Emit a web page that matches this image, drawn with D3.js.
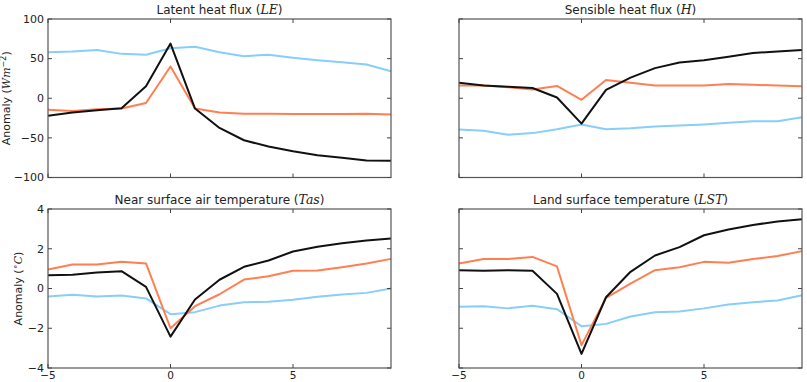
<!DOCTYPE html>
<html>
<head>
<meta charset="utf-8">
<script src="https://cdn.jsdelivr.net/npm/d3@7/dist/d3.min.js"></script>
<style>
  html, body { margin: 0; padding: 0; background: #fff; }
  svg { display: block; }
  text { font-family: "DejaVu Sans", sans-serif; fill: #222; }
  .math { font-family: "DejaVu Serif", "Liberation Serif", serif; font-style: italic; }
</style>
</head>
<body>
<svg id="chart" width="807" height="382"></svg>
<script>
// ---- data ----
const years = [-5, -4, -3, -2, -1, 0, 1, 2, 3, 4, 5, 6, 7, 8, 9];

const leBlack  = [-22, -18, -15, -12.5, 15, 69, -13, -37.5, -53, -61, -67, -72, -75, -78.5, -79];
const leOrange = [-14.5, -16, -14, -13, -6, 40, -13, -18, -19.5, -19.7, -20, -20, -20, -19.6, -20.5];
const leBlue   = [58, 59, 61, 56, 55, 63, 65, 58, 53, 55, 51, 48, 45.5, 42.5, 34];

const hBlack  = [19.5, 16, 14.5, 13, 1, -32, 10.5, 26, 38, 45, 48, 52.5, 57, 59, 61];
const hOrange = [16, 16, 14, 11, 15.5, -2, 23, 19.5, 16, 16, 16, 18, 17, 16, 15];
const hBlue   = [-39.5, -41, -46, -44, -39, -33, -39, -38, -35.5, -34.5, -33, -31, -29, -29, -24];

const tasBlack  = [0.67, 0.69, 0.8, 0.87, 0.08, -2.42, -0.55, 0.44, 1.09, 1.41, 1.86, 2.1, 2.28, 2.42, 2.52];
const tasOrange = [0.96, 1.21, 1.21, 1.34, 1.26, -2.0, -0.89, -0.29, 0.45, 0.62, 0.89, 0.9, 1.07, 1.26, 1.49];
const tasBlue   = [-0.4, -0.32, -0.4, -0.35, -0.5, -1.29, -1.19, -0.86, -0.69, -0.67, -0.57, -0.42, -0.3, -0.22, 0.0];

const lstBlack  = [0.92, 0.89, 0.92, 0.89, -0.27, -3.29, -0.44, 0.84, 1.66, 2.08, 2.68, 2.97, 3.2, 3.37, 3.49];
const lstOrange = [1.26, 1.48, 1.48, 1.59, 1.11, -2.85, -0.47, 0.25, 0.92, 1.07, 1.34, 1.29, 1.48, 1.63, 1.88];
const lstBlue   = [-0.92, -0.89, -1.0, -0.87, -1.04, -1.9, -1.78, -1.41, -1.19, -1.16, -1.0, -0.81, -0.69, -0.6, -0.34];

const xTicks = [-5, 0, 5];
const fluxTicks = [-100, -50, 0, 50, 100];
const tempTicks = [-4, -2, 0, 2, 4];

const colors = { black: "#111111", orange: "#ff7f50", blue: "#87cefa" };

const panels = [
  { title: "Latent heat flux (", math: "LE", col: 0, row: 0, domain: [-100, 100], ticks: fluxTicks,
    series: [["blue", leBlue], ["orange", leOrange], ["black", leBlack]] },
  { title: "Sensible heat flux (", math: "H", col: 1, row: 0, domain: [-100, 100], ticks: fluxTicks,
    series: [["blue", hBlue], ["orange", hOrange], ["black", hBlack]] },
  { title: "Near surface air temperature (", math: "Tas", col: 0, row: 1, domain: [-4, 4], ticks: tempTicks,
    series: [["blue", tasBlue], ["orange", tasOrange], ["black", tasBlack]] },
  { title: "Land surface temperature (", math: "LST", col: 1, row: 1, domain: [-4, 4], ticks: tempTicks,
    series: [["blue", lstBlue], ["orange", lstOrange], ["black", lstBlack]] }
];

// ---- layout ----
const colX = [[48, 391], [459, 802]];
const rowY = [[19, 177.5], [209, 368]];
const svg = d3.select("#chart");
const fmt = v => (v < 0 ? "\u2212" + Math.abs(v) : String(v));
const tickLen = 4;

panels.forEach(p => {
  const [x0, x1] = colX[p.col];
  const [y0, y1] = rowY[p.row];
  const x = d3.scaleLinear().domain([-5, 9]).range([x0, x1]);
  const y = d3.scaleLinear().domain(p.domain).range([y1, y0]);
  const g = svg.append("g");

  // lines
  const line = d3.line().x((d, i) => x(years[i])).y(d => y(d));
  p.series.forEach(([c, vals]) => {
    g.append("path").datum(vals)
      .attr("d", line)
      .attr("fill", "none")
      .attr("stroke", colors[c])
      .attr("stroke-width", 2)
      .attr("stroke-linejoin", "round");
  });

  // frame
  g.append("rect").attr("x", x0).attr("y", y0).attr("width", x1 - x0).attr("height", y1 - y0)
    .attr("fill", "none").attr("stroke", "#555").attr("stroke-width", 1.2);

  // inward ticks
  xTicks.forEach(t => {
    g.append("line").attr("x1", x(t)).attr("x2", x(t)).attr("y1", y1).attr("y2", y1 - tickLen)
      .attr("stroke", "#444").attr("stroke-width", 1);
    g.append("line").attr("x1", x(t)).attr("x2", x(t)).attr("y1", y0).attr("y2", y0 + tickLen)
      .attr("stroke", "#444").attr("stroke-width", 1);
  });
  p.ticks.forEach(t => {
    g.append("line").attr("x1", x0).attr("x2", x0 + tickLen).attr("y1", y(t)).attr("y2", y(t))
      .attr("stroke", "#444").attr("stroke-width", 1);
    g.append("line").attr("x1", x1).attr("x2", x1 - tickLen).attr("y1", y(t)).attr("y2", y(t))
      .attr("stroke", "#444").attr("stroke-width", 1);
  });

  // y tick labels on left column
  if (p.col === 0) {
    p.ticks.forEach(t => {
      g.append("text").attr("x", x0 - 4).attr("y", y(t)).attr("dy", "0.35em")
        .attr("text-anchor", "end").attr("font-size", 11).text(fmt(t));
    });
  }
  // x tick labels on bottom row
  if (p.row === 1) {
    xTicks.forEach(t => {
      g.append("text").attr("x", x(t)).attr("y", y1 + 11)
        .attr("text-anchor", "middle").attr("font-size", 10.5).text(fmt(t));
    });
  }

  // title
  const tt = g.append("text").attr("x", (x0 + x1) / 2).attr("y", y0 - 5)
    .attr("text-anchor", "middle").attr("font-size", 12);
  tt.append("tspan").text(p.title);
  tt.append("tspan").attr("class", "math").attr("font-size", 12.5).text(p.math);
  tt.append("tspan").text(")");

  // y label
  if (p.col === 0) {
    const cx = p.row === 0 ? 10 : 22;
    const cy = (y0 + y1) / 2;
    const lab = g.append("text").attr("transform", `translate(${cx},${cy}) rotate(-90)`)
      .attr("text-anchor", "middle").attr("font-size", 11);
    lab.append("tspan").text("Anomaly (");
    if (p.row === 0) {
      lab.append("tspan").attr("class", "math").text("Wm");
      lab.append("tspan").attr("font-size", 8).attr("dy", -4).text("\u22122");
      lab.append("tspan").attr("dy", 4).text(")");
    } else {
      lab.append("tspan").attr("font-size", 8).attr("dy", -4).text("\u2218");
      lab.append("tspan").attr("class", "math").attr("dy", 4).text("C");
      lab.append("tspan").text(")");
    }
  }
});
</script>
</body>
</html>
